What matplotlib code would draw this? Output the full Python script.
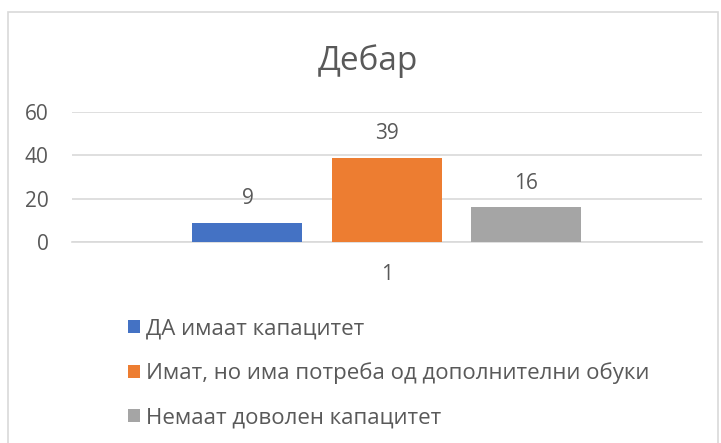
import matplotlib
matplotlib.use("Agg")
import matplotlib.pyplot as plt
from matplotlib.patches import Rectangle, Patch

plt.rcParams['font.family'] = ['Open Sans', 'DejaVu Sans']

title = "Дебар"
category = "1"
series_names = ["ДА имаат капацитет",
                "Имат, но има потреба од дополнителни обуки",
                "Немаат доволен капацитет"]
values = [9, 39, 16]
colors = ["#4472C4", "#ED7D31", "#A5A5A5"]
yticks = [0, 20, 40, 60]

text_color = "#595959"
fs = 15

fig = plt.figure(figsize=(7.21, 4.43), dpi=100)
# chart border
fig.add_artist(Rectangle((8/721, -0.05), 710/721, 1.05 - 12/443, transform=fig.transFigure,
                         fill=False, edgecolor="#D9D9D9", linewidth=1.2))

ax = fig.add_axes([72/721, 1 - 242/443, 630/721, 130/443])
width = 0.1746
offsets = [-0.2215, 0.0, 0.2207]
for off, v, c, name in zip(offsets, values, colors, series_names):
    ax.bar(off, v, width=width, color=c, label=name, zorder=3)
    ax.text(off, v + 11, str(v), ha='center', va='center', fontsize=fs, color=text_color)

ax.set_xlim(-0.5, 0.5)
ax.set_ylim(0, 60)
ax.set_yticks(yticks)
ax.set_yticklabels([str(t) for t in yticks], fontsize=fs, color=text_color)
ax.set_xticks([0])
ax.set_xticklabels([category], fontsize=fs, color=text_color)
ax.tick_params(axis='y', length=0, pad=17)
ax.tick_params(axis='x', length=0, pad=16)
ax.yaxis.grid(True, color="#D9D9D9", linewidth=1.2, zorder=0)
for s in ax.spines.values():
    s.set_visible(False)
ax.spines['bottom'].set_visible(True)
ax.spines['bottom'].set_color("#D9D9D9")
ax.spines['bottom'].set_linewidth(1.2)

fig.text(368/721, 1 - 61/443, title, ha='center', va='center', fontsize=24, color=text_color)

handles = [Patch(facecolor=c, edgecolor='none') for c in colors]
fig.legend(handles, series_names, loc='upper left', bbox_to_anchor=(117/721, 1 - 307/443),
           frameon=False, fontsize=16, labelcolor=text_color, handlelength=0.55,
           handleheight=0.55, handletextpad=0.25, labelspacing=1.05, borderpad=0)

fig.savefig("out.png", dpi=100)
